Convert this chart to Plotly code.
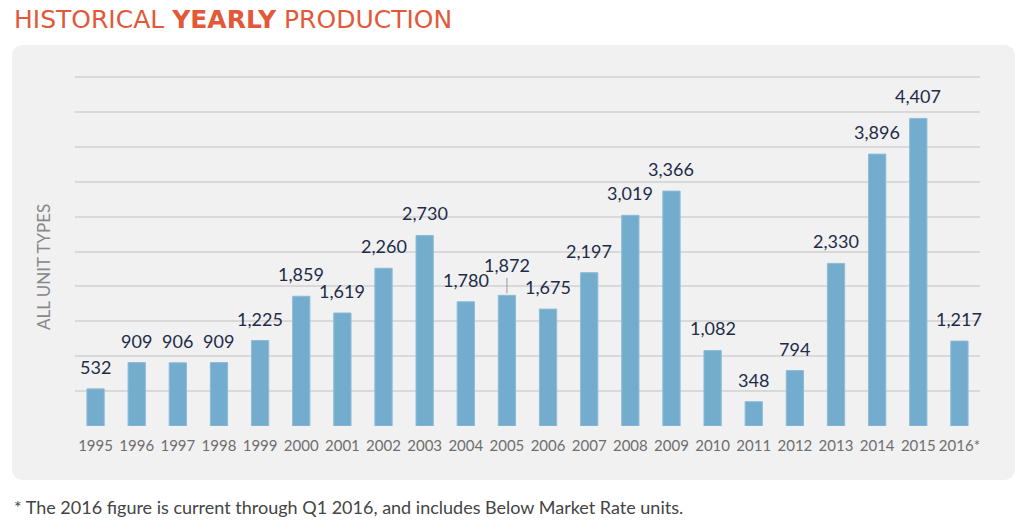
import plotly.graph_objects as go

years = ['1995', '1996', '1997', '1998', '1999', '2000', '2001', '2002', '2003', '2004', '2005',
         '2006', '2007', '2008', '2009', '2010', '2011', '2012', '2013', '2014', '2015', '2016*']
units = [532, 909, 906, 909, 1225, 1859, 1619, 2260, 2730, 1780, 1872,
         1675, 2197, 3019, 3366, 1082, 348, 794, 2330, 3896, 4407, 1217]
y_ticks = list(range(0, 5001, 500))

W, H = 1026, 532
# plot area in pixels
L, R, T, B = 75, 980, 76, 426


def px(x):
    return (x - L) / (R - L)


def py(y):
    return (B - y) / (B - T)


def rounded_rect(x0, y0, x1, y1, r):
    return ('M {a},{b} L {c},{b} Q {x1p},{b} {x1p},{d} L {x1p},{e} Q {x1p},{y1p} {c},{y1p} '
            'L {a},{y1p} Q {x0p},{y1p} {x0p},{e} L {x0p},{d} Q {x0p},{b} {a},{b} Z').format(
        a=px(x0 + r), c=px(x1 - r), b=py(y0), d=py(y0 + r), e=py(y1 - r),
        x0p=px(x0), x1p=px(x1), y1p=py(y1))


fig = go.Figure()
fig.add_trace(go.Bar(x=years, y=units, width=0.42,
                     marker=dict(color='#74acce', line=dict(color='#8dbcd8', width=1))))

label_font = dict(size=18, color='#1e2b4a', family='Lato')
annotations = []
for i, (yr, v) in enumerate(zip(years, units)):
    if yr == '2005':
        annotations.append(dict(x=i, y=v, text='{:,}'.format(v), showarrow=True,
                                arrowhead=0, arrowwidth=1, arrowcolor='#9a9a9a',
                                ax=0, ay=-30, standoff=2, font=label_font))
    else:
        annotations.append(dict(x=i, y=v, text='{:,}'.format(v), showarrow=False,
                                yanchor='bottom', yshift=9, font=label_font))

annotations.append(dict(xref='paper', yref='paper', x=px(12), y=py(19), xanchor='left',
                        yanchor='middle', showarrow=False,
                        text='HISTORICAL <b>YEARLY</b> PRODUCTION',
                        font=dict(size=25, color='#e2593a', family='DejaVu Sans')))
annotations.append(dict(xref='paper', yref='paper', x=px(12), y=py(507), xanchor='left',
                        yanchor='middle', showarrow=False,
                        text='* The 2016 figure is current through Q1 2016, and includes Below Market Rate units.',
                        font=dict(size=18, color='#444444', family='Lato')))
annotations.append(dict(xref='paper', yref='paper', x=px(43), y=py(267), xanchor='center',
                        yanchor='middle', showarrow=False, textangle=-90,
                        text='ALL UNIT TYPES',
                        font=dict(size=17, color='#888888', family='Lato')))

fig.update_layout(
    width=W, height=H,
    margin=dict(l=L, r=W - R, t=T, b=H - B),
    paper_bgcolor='white', plot_bgcolor='rgba(0,0,0,0)',
    showlegend=False,
    annotations=annotations,
    shapes=[dict(type='path', xref='paper', yref='paper', layer='below',
                 path=rounded_rect(12, 45, 1015, 480, 12),
                 fillcolor='#f1f1f1', line=dict(width=0))],
    xaxis=dict(type='category', showgrid=False, zeroline=False, showline=False,
               tickfont=dict(size=15, color='#6e6e6e', family='Lato'), ticks='',
               ticklabelstandoff=9, range=[-0.5, len(years) - 0.5]),
    yaxis=dict(range=[0, 5015], tickvals=y_ticks, showticklabels=False,
               showgrid=True, gridcolor='#d9d9d9', gridwidth=1.5, zeroline=False),
)

# drop the default 8px page margin so the figure fills the window
fig.write_html('out.html', config={'displayModeBar': False},
               post_script="document.body.style.margin = '0';")
